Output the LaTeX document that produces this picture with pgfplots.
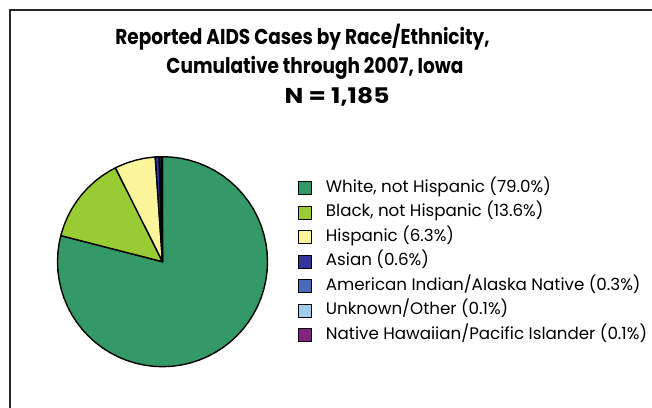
\documentclass[border=0pt]{standalone}
\usepackage{fontspec}
\setmainfont{Poppins}
\newfontfamily\titlefont{Poppins}[FakeStretch=0.86]
\newfontfamily\titlefontN{Poppins}[FakeStretch=1.16]
\newfontfamily\legfont{Poppins}
\usepackage{pgfplots}
\pgfplotsset{compat=1.18}
\usepgfplotslibrary{polar}
\definecolor{cWhite}{RGB}{51,153,102}
\definecolor{cBlack}{RGB}{153,204,51}
\definecolor{cHisp}{RGB}{250,245,155}
\definecolor{cAsian}{RGB}{51,51,153}
\definecolor{cAI}{RGB}{74,108,184}
\definecolor{cUnk}{RGB}{160,204,238}
\definecolor{cNH}{RGB}{128,38,128}
\begin{document}
\begin{tikzpicture}[x=1pt,y=1pt]
\useasboundingbox (0,0) rectangle (652,407);
\clip (0,0) rectangle (652,407);
\draw[line width=2pt, black!85] (10,397) rectangle (700,-50);
\node[anchor=base, font=\titlefont\bfseries\fontsize{21.5}{25}\selectfont, inner sep=0pt] at (302.5,362) {Reported AIDS Cases by Race/Ethnicity,};
\node[anchor=base, font=\titlefont\bfseries\fontsize{21.5}{25}\selectfont, inner sep=0pt] at (315,333) {Cumulative through 2007, Iowa};
\node[anchor=base, font=\titlefontN\bfseries\fontsize{21.5}{25}\selectfont, inner sep=0pt] at (337,303.7) {N = 1,185};
\begin{polaraxis}[
  at={(162.5pt,145.3pt)}, anchor=origin,
  scale only axis, width=210pt, height=210pt,
  hide axis, xmin=0, xmax=360, ymin=0, ymax=1, clip=false,
  legend cell align=left,
  legend image code/.code={\draw[#1] (0pt,-6.5pt) rectangle (13pt,6.5pt);},
  legend style={draw=none, fill=none, inner sep=0pt,
    at={(1.142,0.889)}, anchor=north west,
    font=\legfont\fontsize{16.7}{19}\selectfont,
    row sep=8.5pt,
    nodes={inner sep=0pt, text height=12pt, text depth=4pt},
    /tikz/every odd column/.append style={column sep=14pt}},
  every axis plot/.append style={draw=black, line width=1.4pt, line join=round},
]
% angles = 3.6 x percentage, clockwise from 12 o'clock
% White, not Hispanic 79.0% : 90 -> 165.6 (clockwise)
\addplot[fill=cWhite] coordinates {(0,0) (165.6,1) (170,1) (175,1) (180,1) (185,1) (190,1) (195,1) (200,1) (205,1) (210,1) (215,1) (220,1) (225,1) (230,1) (235,1) (240,1) (245,1) (250,1) (255,1) (260,1) (265,1) (270,1) (275,1) (280,1) (285,1) (290,1) (295,1) (300,1) (305,1) (310,1) (315,1) (320,1) (325,1) (330,1) (335,1) (340,1) (345,1) (350,1) (355,1) (360,1) (5,1) (10,1) (15,1) (20,1) (25,1) (30,1) (35,1) (40,1) (45,1) (50,1) (55,1) (60,1) (65,1) (70,1) (75,1) (80,1) (85,1) (90,1)} -- cycle;
\addlegendentry{White, not Hispanic (79.0\%)}
% Black, not Hispanic 13.6%
\addplot[fill=cBlack] coordinates {(0,0) (116.64,1) (120,1) (125,1) (130,1) (135,1) (140,1) (145,1) (150,1) (155,1) (160,1) (165,1) (165.6,1)} -- cycle;
\addlegendentry{Black, not Hispanic (13.6\%)}
% Hispanic 6.3%
\addplot[fill=cHisp] coordinates {(0,0) (93.96,1) (95,1) (100,1) (105,1) (110,1) (115,1) (116.64,1)} -- cycle;
\addlegendentry{Hispanic (6.3\%)}
% Asian 0.6%
\addplot[fill=cAsian] coordinates {(0,0) (91.8,1) (93.96,1)} -- cycle;
\addlegendentry{Asian (0.6\%)}
% American Indian/Alaska Native 0.3%
\addplot[fill=cAI] coordinates {(0,0) (90.72,1) (91.8,1)} -- cycle;
\addlegendentry{American Indian/Alaska Native (0.3\%)}
% Unknown/Other 0.1%
\addplot[fill=cUnk] coordinates {(0,0) (90.36,1) (90.72,1)} -- cycle;
\addlegendentry{Unknown/Other (0.1\%)}
% Native Hawaiian/Pacific Islander 0.1%
\addplot[fill=cNH] coordinates {(0,0) (90,1) (90.36,1)} -- cycle;
\addlegendentry{Native Hawaiian/Pacific Islander (0.1\%)}
\end{polaraxis}
\end{tikzpicture}
\end{document}
